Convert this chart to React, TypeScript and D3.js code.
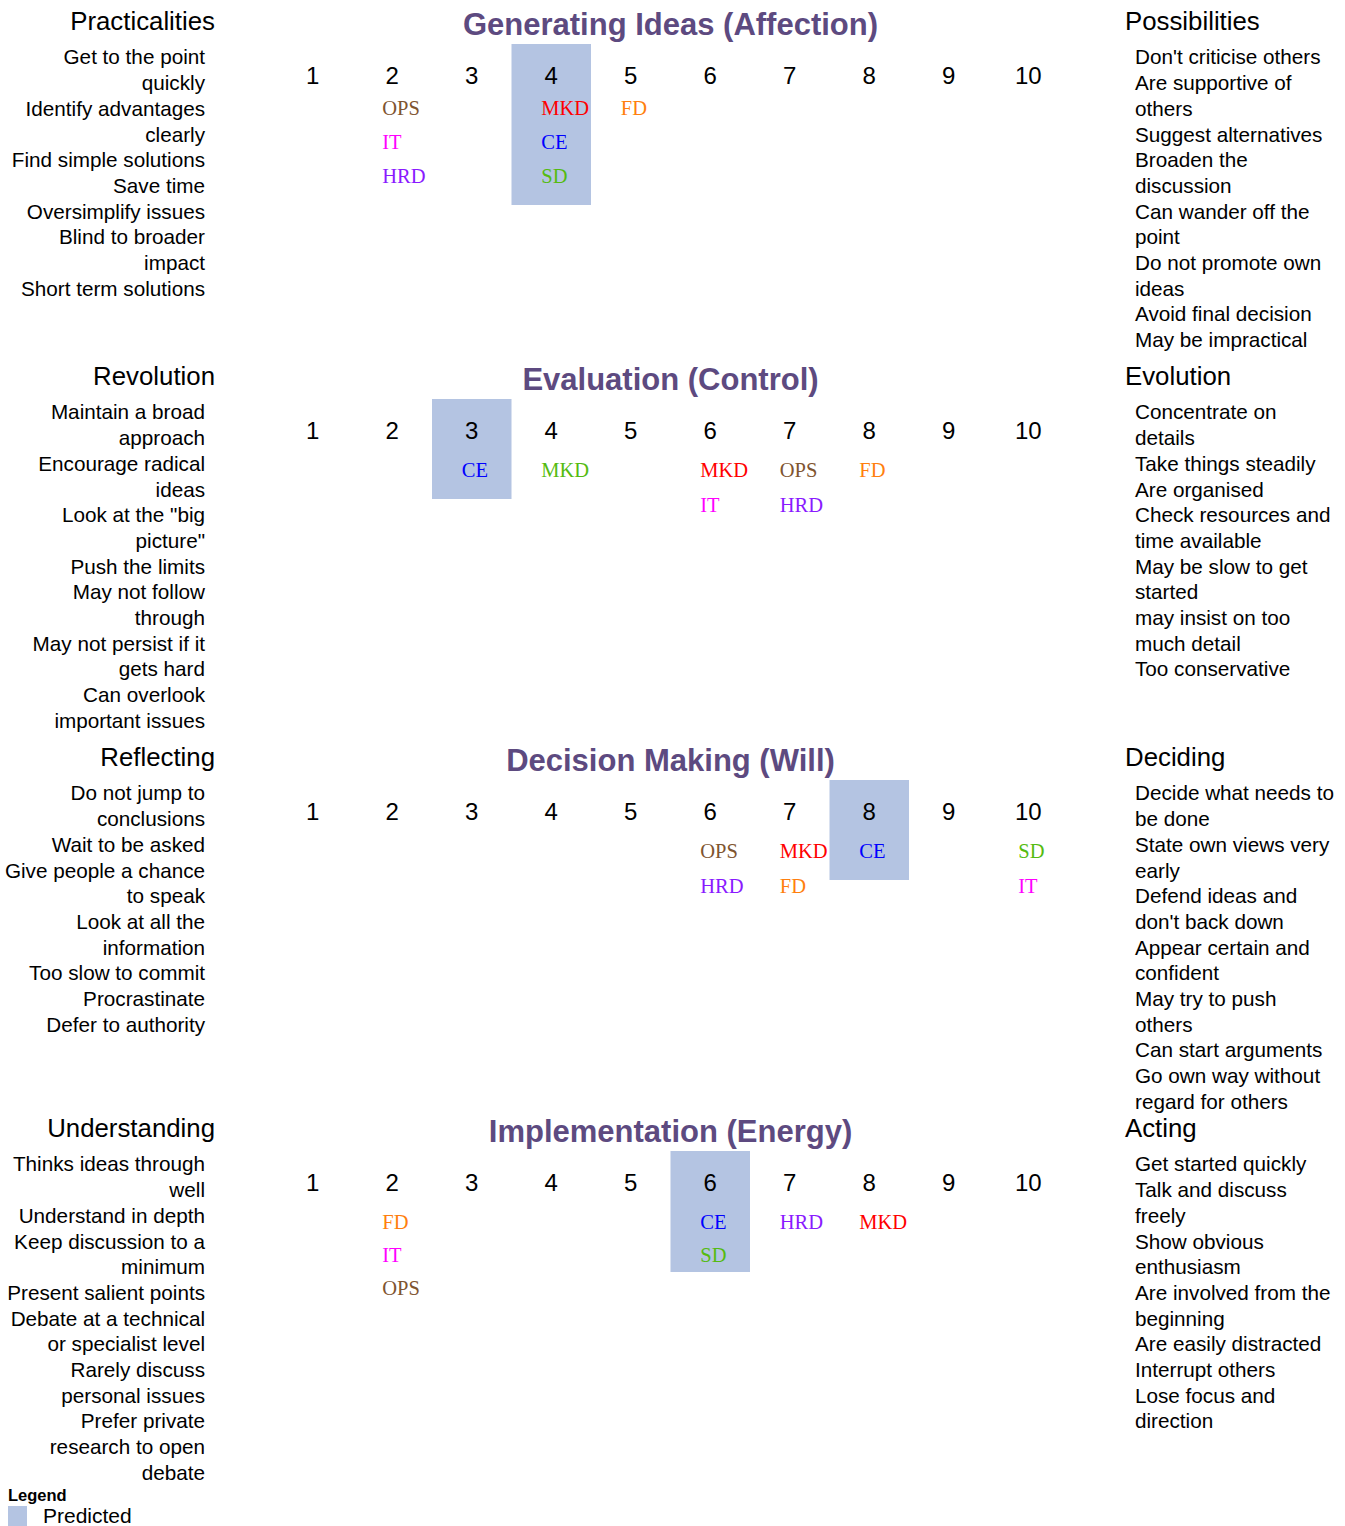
import React from 'react';
import * as d3 from 'd3';

// scale ticks
const scores = [1, 2, 3, 4, 5, 6, 7, 8, 9, 10];

const sectionTitles = [
  'Generating Ideas (Affection)',
  'Evaluation (Control)',
  'Decision Making (Will)',
  'Implementation (Energy)',
];
const predicted = [4, 3, 8, 6];

const leftHeads = ['Practicalities', 'Revolution', 'Reflecting', 'Understanding'];
const rightHeads = ['Possibilities', 'Evolution', 'Deciding', 'Acting'];

const leftItems = [
  ['Get to the point\nquickly', 'Identify advantages\nclearly', 'Find simple solutions', 'Save time',
    'Oversimplify issues', 'Blind to broader\nimpact', 'Short term solutions'],
  ['Maintain a broad\napproach', 'Encourage radical\nideas', 'Look at the "big\npicture"', 'Push the limits',
    'May not follow\nthrough', 'May not persist if it\ngets hard', 'Can overlook\nimportant issues'],
  ['Do not jump to\nconclusions', 'Wait to be asked', 'Give people a chance\nto speak', 'Look at all the\ninformation',
    'Too slow to commit', 'Procrastinate', 'Defer to authority'],
  ['Thinks ideas through\nwell', 'Understand in depth', 'Keep discussion to a\nminimum', 'Present salient points',
    'Debate at a technical\nor specialist level', 'Rarely discuss\npersonal issues', 'Prefer private\nresearch to open\ndebate'],
];

const rightItems = [
  ["Don't criticise others", 'Are supportive of\nothers', 'Suggest alternatives', 'Broaden the\ndiscussion',
    'Can wander off the\npoint', 'Do not promote own\nideas', 'Avoid final decision', 'May be impractical'],
  ['Concentrate on\ndetails', 'Take things steadily', 'Are organised', 'Check resources and\ntime available',
    'May be slow to get\nstarted', 'may insist on too\nmuch detail', 'Too conservative'],
  ['Decide what needs to\nbe done', 'State own views very\nearly', 'Defend ideas and\ndon\'t back down',
    'Appear certain and\nconfident', 'May try to push\nothers', 'Can start arguments', 'Go own way without\nregard for others'],
  ['Get started quickly', 'Talk and discuss\nfreely', 'Show obvious\nenthusiasm', 'Are involved from the\nbeginning',
    'Are easily distracted', 'Interrupt others', 'Lose focus and\ndirection'],
];

const deptColors: Record<string, string> = {
  OPS: '#7f5530',
  IT: '#ff00ff',
  HRD: '#8a1aff',
  MKD: '#ff0000',
  CE: '#0000ff',
  SD: '#55bb11',
  FD: '#ff7f0e',
};

type Mark = { label: string; dept: string; score: number };

const generatingMarks: Mark[] = [
  { label: 'OPS', dept: 'OPS', score: 2 },
  { label: 'IT', dept: 'IT', score: 2 },
  { label: 'HRD', dept: 'HRD', score: 2 },
  { label: 'MKD', dept: 'MKD', score: 4 },
  { label: 'CE', dept: 'CE', score: 4 },
  { label: 'SD', dept: 'SD', score: 4 },
  { label: 'FD', dept: 'FD', score: 5 },
];
const evaluationMarks: Mark[] = [
  { label: 'CE', dept: 'CE', score: 3 },
  { label: 'MKD', dept: 'SD', score: 4 },
  { label: 'MKD', dept: 'MKD', score: 6 },
  { label: 'IT', dept: 'IT', score: 6 },
  { label: 'OPS', dept: 'OPS', score: 7 },
  { label: 'HRD', dept: 'HRD', score: 7 },
  { label: 'FD', dept: 'FD', score: 8 },
];
const decisionMarks: Mark[] = [
  { label: 'OPS', dept: 'OPS', score: 6 },
  { label: 'HRD', dept: 'HRD', score: 6 },
  { label: 'MKD', dept: 'MKD', score: 7 },
  { label: 'FD', dept: 'FD', score: 7 },
  { label: 'CE', dept: 'CE', score: 8 },
  { label: 'SD', dept: 'SD', score: 10 },
  { label: 'IT', dept: 'IT', score: 10 },
];
const implementationMarks: Mark[] = [
  { label: 'FD', dept: 'FD', score: 2 },
  { label: 'IT', dept: 'IT', score: 2 },
  { label: 'OPS', dept: 'OPS', score: 2 },
  { label: 'CE', dept: 'CE', score: 6 },
  { label: 'SD', dept: 'SD', score: 6 },
  { label: 'HRD', dept: 'HRD', score: 7 },
  { label: 'MKD', dept: 'MKD', score: 8 },
];
const sectionMarks = [generatingMarks, evaluationMarks, decisionMarks, implementationMarks];

const W = 1345;
const H = 1526;
const SANS = '"Liberation Sans", Arial, Helvetica, sans-serif';
const SERIF = '"Liberation Serif", "Times New Roman", serif';
const BOX = '#b4c4e2';
const TITLE = '#5d4a80';

// number row centre of each section, offset of the first label row, gap between rows
const baseY = [75, 430, 811, 1182];
const rowOff = [33, 40, 40, 40];
const rowGap = [34, 35, 35, 33];
const lineH = 25.7;

const x = d3.scaleBand<number>().domain(scores).range([273, 1068]).paddingInner(0).paddingOuter(0);
const bw = x.bandwidth();
const cx = (s: number) => (x(s) as number) + bw / 2;

const Lines: React.FC<{ items: string[]; x0: number; y0: number; anchor: 'start' | 'end' }> = ({ items, x0, y0, anchor }) => {
  const lines = items.flatMap(t => t.split('\n'));
  return (
    <text x={x0} fontFamily={SANS} fontSize={20.7} fill="#000" textAnchor={anchor}>
      {lines.map((l, i) => (
        <tspan key={i} x={x0} y={y0 + 7.4 + i * lineH}>{l}</tspan>
      ))}
    </text>
  );
};

const Section: React.FC<{ i: number }> = ({ i }) => {
  const b = baseY[i];
  const marks = sectionMarks[i];
  const byScore = d3.group(marks, m => m.score);
  const nPred = (byScore.get(predicted[i]) || []).length;
  const boxTop = b - 31;
  const boxH = 31 + rowOff[i] + Math.max(0, nPred - 1) * rowGap[i] + (nPred > 1 && nPred < 3 ? 17 : 29);
  return (
    <g>
      <rect x={x(predicted[i])} y={boxTop} width={bw} height={boxH} fill={BOX} />
      <text x={(cx(1) + cx(10)) / 2} y={b - 51 + 11} textAnchor="middle"
        fontFamily={SANS} fontWeight="bold" fontSize={31} fill={TITLE}>{sectionTitles[i]}</text>
      {scores.map(s => (
        <text key={s} x={cx(s)} y={b + 8.6} textAnchor="middle" fontFamily={SANS} fontSize={24} fill="#000">{s}</text>
      ))}
      {Array.from(byScore, ([s, ms]) =>
        ms.map((m, k) => (
          <text key={`${s}-${k}`} x={cx(s) - 10} y={b + rowOff[i] + k * rowGap[i] + 6.8}
            fontFamily={SERIF} fontSize={20.5} fill={deptColors[m.dept]}>{m.label}</text>
        ))
      )}
      <text x={215} y={b - 54 + 9.3} textAnchor="end" fontFamily={SANS} fontSize={25.8} fill="#000">{leftHeads[i]}</text>
      <Lines items={leftItems[i]} x0={205} y0={b - 18} anchor="end" />
      <text x={1125} y={b - 54 + 9.3} fontFamily={SANS} fontSize={25.8} fill="#000">{rightHeads[i]}</text>
      <Lines items={rightItems[i]} x0={1135} y0={b - 18} anchor="start" />
    </g>
  );
};

export default function App() {
  return (
    <svg width={W} height={H} style={{ position: 'absolute', left: 0, top: 0, background: '#fff' }}>
      <rect width={W} height={H} fill="#fff" />
      {sectionTitles.map((_, i) => <Section key={i} i={i} />)}
      <text x={8} y={1501} fontFamily={SANS} fontWeight="bold" fontSize={16.5} fill="#000">Legend</text>
      <rect x={8} y={1506} width={19} height={20} fill={BOX} />
      <text x={43} y={1522.5} fontFamily={SANS} fontSize={21} fill="#000">Predicted</text>
    </svg>
  );
}
